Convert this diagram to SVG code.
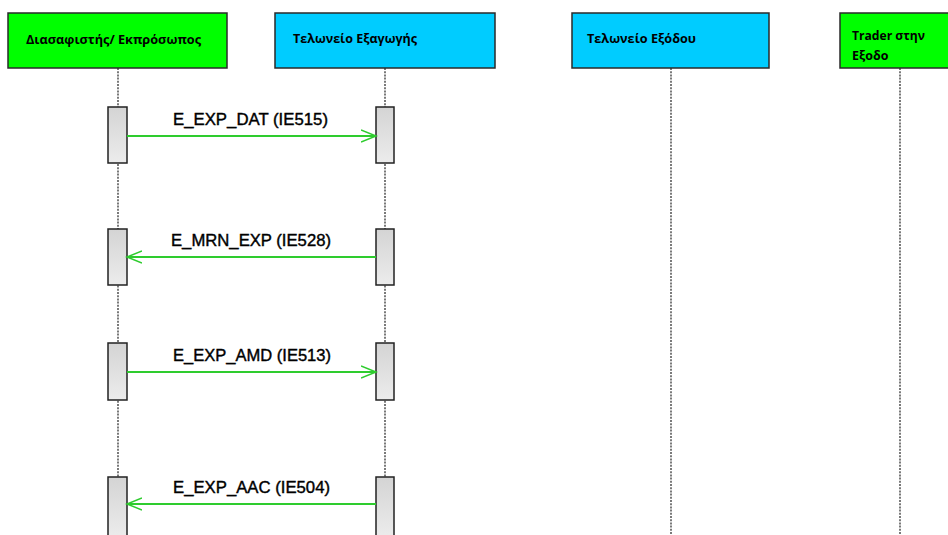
<svg xmlns="http://www.w3.org/2000/svg" width="948" height="535" viewBox="0 0 948 535">
<defs>
<linearGradient id="barg" x1="0" y1="0" x2="0" y2="1">
<stop offset="0" stop-color="#d4d4d4"/>
<stop offset="1" stop-color="#ececec"/>
</linearGradient>
<marker id="open" markerWidth="18" markerHeight="14" refX="15" refY="7" orient="auto" markerUnits="userSpaceOnUse">
<path d="M0,1 L15,7 L0,13" fill="none" stroke="#2ecc2e" stroke-width="1.5"/>
</marker>
</defs>
<style>
.hdr{stroke:#2a2a2a;stroke-width:1.5}
.green{fill:#00ff00}
.blue{fill:#00ccff}
.ht{font-family:"Open Sans","DejaVu Sans",sans-serif;font-weight:bold;font-size:12.5px;fill:#000}
.life{stroke:#333;stroke-width:1.3;stroke-dasharray:2,1.2;fill:none}
.bar{fill:url(#barg);stroke:#222;stroke-width:1.5}
.msg{stroke:#2ecc2e;stroke-width:1.8;fill:none;marker-end:url(#open)}
.ml{font-family:"Liberation Sans",Arial,sans-serif;font-size:16.5px;fill:#000;stroke:#000;stroke-width:0.4;text-anchor:start}
</style>
<rect width="948" height="535" fill="#fff"/>
<g id="lifelines">
<line class="life" x1="118" y1="68" x2="118" y2="535"/>
<line class="life" x1="385" y1="68" x2="385" y2="535"/>
<line class="life" x1="671" y1="68" x2="671" y2="535"/>
<line class="life" x1="900" y1="68" x2="900" y2="535"/>
</g>
<g id="n-declarant">
<rect class="hdr green" x="8" y="13" width="219" height="55"/>
<text class="ht" x="26" y="44" textLength="175" lengthAdjust="spacingAndGlyphs">Διασαφιστής/ Εκπρόσωπος</text>
</g>
<g id="n-export">
<rect class="hdr blue" x="275" y="13" width="220" height="55"/>
<text class="ht" x="293" y="43" textLength="124" lengthAdjust="spacingAndGlyphs">Τελωνείο Εξαγωγής</text>
</g>
<g id="n-exit">
<rect class="hdr blue" x="572" y="13" width="197" height="55"/>
<text class="ht" x="587" y="43" textLength="109" lengthAdjust="spacingAndGlyphs">Τελωνείο Εξόδου</text>
</g>
<g id="n-trader">
<rect class="hdr green" x="840" y="13" width="120" height="55"/>
<text class="ht" x="852" y="40" textLength="73" lengthAdjust="spacingAndGlyphs">Trader στην</text>
<text class="ht" x="852" y="60">Εξοδο</text>
</g>
<g id="activations">
<rect class="bar" x="108" y="107" width="19" height="56"/>
<rect class="bar" x="376" y="107" width="18" height="56"/>
<rect class="bar" x="108" y="229" width="19" height="56"/>
<rect class="bar" x="376" y="229" width="18" height="56"/>
<rect class="bar" x="108" y="343" width="19" height="57"/>
<rect class="bar" x="376" y="343" width="18" height="57"/>
<rect class="bar" x="108" y="477" width="19" height="60"/>
<rect class="bar" x="376" y="477" width="18" height="60"/>
</g>
<g id="connectors">
<line class="msg" x1="127" y1="136" x2="376" y2="136"/>
<line class="msg" x1="376" y1="257" x2="127" y2="257"/>
<line class="msg" x1="127" y1="372" x2="376" y2="372"/>
<line class="msg" x1="376" y1="504" x2="127" y2="504"/>
<text class="ml" x="173" y="125" textLength="155" lengthAdjust="spacingAndGlyphs">E_EXP_DAT (IE515)</text>
<text class="ml" x="171" y="246" textLength="160" lengthAdjust="spacingAndGlyphs">E_MRN_EXP (IE528)</text>
<text class="ml" x="173" y="361" textLength="158" lengthAdjust="spacingAndGlyphs">E_EXP_AMD (IE513)</text>
<text class="ml" x="173" y="493" textLength="157" lengthAdjust="spacingAndGlyphs">E_EXP_AAC (IE504)</text>
</g>
</svg>
